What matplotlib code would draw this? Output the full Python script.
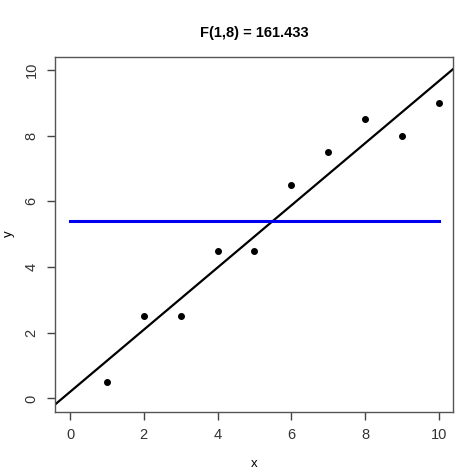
import matplotlib
matplotlib.use('Agg')
from matplotlib import pyplot as plt
import numpy as np

x = [1, 2, 3, 4, 5, 6, 7, 8, 9, 10]
y = [0.5, 2.5, 2.5, 4.5, 4.5, 6.5, 7.5, 8.5, 8, 9]
ticks = [0, 2, 4, 6, 8, 10]

xa, ya = np.array(x), np.array(y)
slope, intercept = np.polyfit(xa, ya, 1)
ymean = ya.mean()
n = len(x)
ssr = np.sum((slope * xa + intercept - ymean) ** 2)
sse = np.sum((ya - slope * xa - intercept) ** 2)
fval = ssr / (sse / (n - 2))

plt.rcParams['font.family'] = ['Liberation Sans', 'DejaVu Sans']
fig = plt.figure(figsize=(4.74, 4.70), dpi=100)
ax = fig.add_axes([0.1167, 0.1243, 0.840, 0.7551])

ax.plot(x, y, 'o', color='black', markersize=4)
ax.axline((0, intercept), slope=slope, color='black', lw=1.6)
ax.plot([0, 10], [ymean, ymean], color='#0000ee', lw=2.2)

ax.set_xlim(-0.4, 10.4)
ax.set_ylim(-0.4, 10.4)
ax.set_xticks(ticks)
ax.set_yticks(ticks)
ax.set_yticklabels([str(t) for t in ticks], rotation=90, va='center')
ax.tick_params(direction='out', length=6, width=1, colors='#444444',
               labelsize=10.5, labelcolor='#333333', pad=6)
for s in ax.spines.values():
    s.set_color('#555555')
    s.set_linewidth(1)

ax.set_xlabel('x', fontsize=9.5, labelpad=11)
ax.set_ylabel('y', fontsize=9.5, labelpad=7)
ax.set_title('F(1,%d) = %.3f' % (n - 2, fval), fontsize=10.5,
             fontweight='bold', pad=14)

fig.savefig('out.png', dpi=100)
